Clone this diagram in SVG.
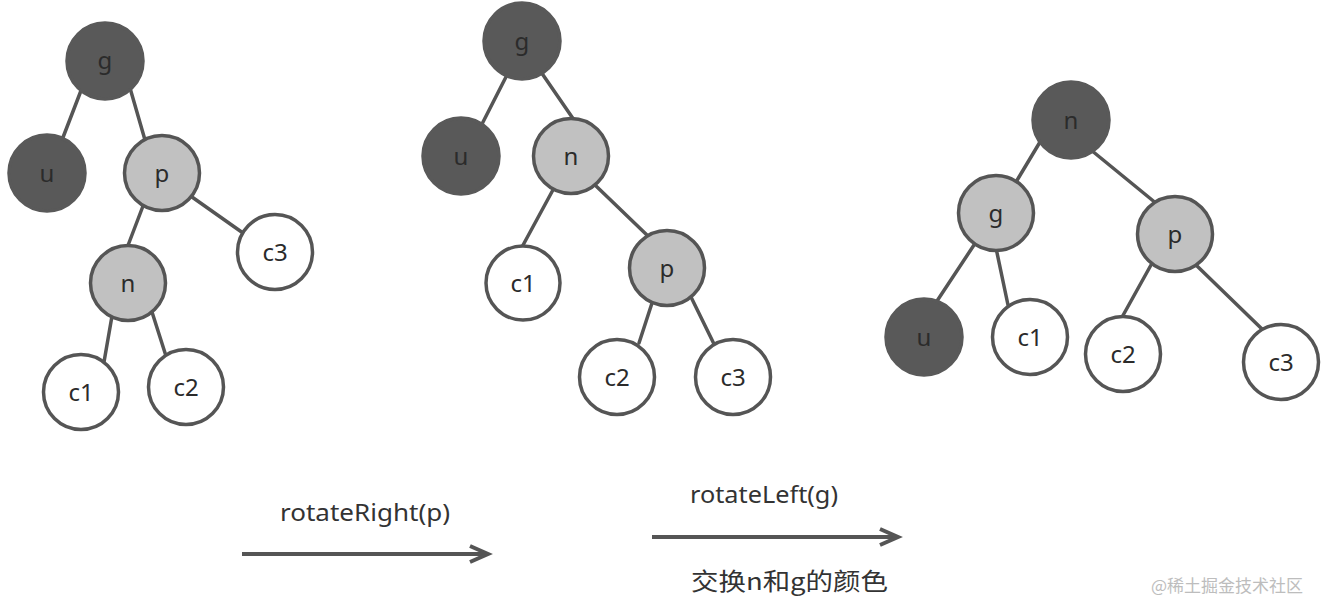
<svg xmlns="http://www.w3.org/2000/svg" width="1328" height="616" viewBox="0 0 1328 616">
<style>
  .edge { stroke: #555; stroke-width: 3.5; stroke-linecap: round; }
  .arrow { stroke: #555; stroke-width: 4; fill: none; }
  .dark { fill: #595959; stroke: #595959; stroke-width: 3.5; }
  .mid { fill: #c1c1c1; stroke: #555; stroke-width: 3.5; }
  .light { fill: #fff; stroke: #555; stroke-width: 3.5; }
  .lbl { font-family: "Noto Sans", "Open Sans", "Liberation Sans", sans-serif; font-size: 24px; fill: #2b2b2b; text-anchor: middle; }
  .cap { font-family: "Noto Sans", "Open Sans", "Liberation Sans", "Noto Sans CJK SC", sans-serif; font-size: 24px; fill: #333; }
  .wm { font-family: "Noto Sans CJK SC", sans-serif; font-size: 17px; fill: #bdbdbd; }
</style>
<defs>
  <marker id="head" markerUnits="userSpaceOnUse" markerWidth="26" markerHeight="22" refX="20" refY="10" orient="auto" overflow="visible">
    <path d="M2,2 L20,10 L2,18" fill="none" stroke="#555" stroke-width="4"/>
  </marker>
</defs>
<rect width="1328" height="616" fill="#fff"/>

<g id="connectors">
  <!-- tree 1 -->
  <line class="edge" x1="82" y1="88" x2="62" y2="140"/>
  <line class="edge" x1="130" y1="88" x2="145" y2="140"/>
  <line class="edge" x1="143" y1="206" x2="127" y2="248"/>
  <line class="edge" x1="192" y1="197" x2="243" y2="233"/>
  <line class="edge" x1="112" y1="316" x2="104" y2="362"/>
  <line class="edge" x1="152" y1="312" x2="166" y2="356"/>
  <!-- tree 2 -->
  <line class="edge" x1="508" y1="73" x2="482" y2="124"/>
  <line class="edge" x1="541" y1="72" x2="574" y2="120"/>
  <line class="edge" x1="554" y1="188" x2="522" y2="247"/>
  <line class="edge" x1="595" y1="185" x2="649" y2="237"/>
  <line class="edge" x1="653" y1="300" x2="639" y2="343"/>
  <line class="edge" x1="691" y1="297" x2="714" y2="344"/>
  <!-- tree 3 -->
  <line class="edge" x1="1040" y1="142" x2="1016" y2="182"/>
  <line class="edge" x1="1091" y1="150" x2="1157" y2="204"/>
  <line class="edge" x1="974" y1="245" x2="937" y2="301"/>
  <line class="edge" x1="996" y1="248" x2="1008" y2="305"/>
  <line class="edge" x1="1151" y1="265" x2="1121" y2="319"/>
  <line class="edge" x1="1196" y1="265" x2="1263" y2="330"/>
  <!-- operation arrows -->
  <line class="arrow" x1="242" y1="554" x2="488" y2="554" marker-end="url(#head)"/>
  <line class="arrow" x1="652" y1="537" x2="898" y2="537" marker-end="url(#head)"/>
</g>

<!-- tree 1 -->
<g id="t1-g"><circle class="dark" cx="105" cy="61" r="38"/><text class="lbl" x="105" y="69">g</text></g>
<g id="t1-u"><circle class="dark" cx="47" cy="173" r="38"/><text class="lbl" x="47" y="182">u</text></g>
<g id="t1-p"><circle class="mid" cx="162" cy="173" r="37.5"/><text class="lbl" x="162" y="182">p</text></g>
<g id="t1-c3"><circle class="light" cx="275" cy="252" r="37.5"/><text class="lbl" x="275" y="261">c3</text></g>
<g id="t1-n"><circle class="mid" cx="128" cy="283" r="37.5"/><text class="lbl" x="128" y="292">n</text></g>
<g id="t1-c1"><circle class="light" cx="81" cy="392" r="37.5"/><text class="lbl" x="81" y="401">c1</text></g>
<g id="t1-c2"><circle class="light" cx="186" cy="387" r="37.5"/><text class="lbl" x="186" y="396">c2</text></g>

<!-- tree 2 -->
<g id="t2-g"><circle class="dark" cx="522" cy="41" r="38"/><text class="lbl" x="522" y="50">g</text></g>
<g id="t2-u"><circle class="dark" cx="461" cy="156" r="38"/><text class="lbl" x="461" y="165">u</text></g>
<g id="t2-n"><circle class="mid" cx="571" cy="156" r="37.5"/><text class="lbl" x="571" y="165">n</text></g>
<g id="t2-c1"><circle class="light" cx="523" cy="283" r="37"/><text class="lbl" x="523" y="292">c1</text></g>
<g id="t2-p"><circle class="mid" cx="667" cy="268" r="37.5"/><text class="lbl" x="667" y="277">p</text></g>
<g id="t2-c2"><circle class="light" cx="617" cy="377" r="37.5"/><text class="lbl" x="617" y="386">c2</text></g>
<g id="t2-c3"><circle class="light" cx="733" cy="377" r="37.5"/><text class="lbl" x="733" y="386">c3</text></g>

<!-- tree 3 -->
<g id="t3-n"><circle class="dark" cx="1071" cy="120" r="38"/><text class="lbl" x="1071" y="129">n</text></g>
<g id="t3-g"><circle class="mid" cx="996" cy="213" r="37.5"/><text class="lbl" x="996" y="222">g</text></g>
<g id="t3-p"><circle class="mid" cx="1175" cy="234" r="37.5"/><text class="lbl" x="1175" y="243">p</text></g>
<g id="t3-u"><circle class="dark" cx="924" cy="337" r="38"/><text class="lbl" x="924" y="346">u</text></g>
<g id="t3-c1"><circle class="light" cx="1030" cy="337" r="37.5"/><text class="lbl" x="1030" y="346">c1</text></g>
<g id="t3-c2"><circle class="light" cx="1123" cy="354" r="37.5"/><text class="lbl" x="1123" y="363">c2</text></g>
<g id="t3-c3"><circle class="light" cx="1281" cy="362" r="37.5"/><text class="lbl" x="1281" y="371">c3</text></g>

<!-- captions -->
<text class="cap" x="280" y="521" textLength="170" lengthAdjust="spacingAndGlyphs">rotateRight(p)</text>
<text class="cap" x="690" y="503" textLength="148" lengthAdjust="spacingAndGlyphs">rotateLeft(g)</text>
<text class="cap" x="691" y="590" font-size="25" textLength="197" lengthAdjust="spacingAndGlyphs" style="font-family:'Noto Sans CJK SC', sans-serif">交换n和g的颜色</text>
<text class="wm" x="1151" y="592">@稀土掘金技术社区</text>
</svg>
